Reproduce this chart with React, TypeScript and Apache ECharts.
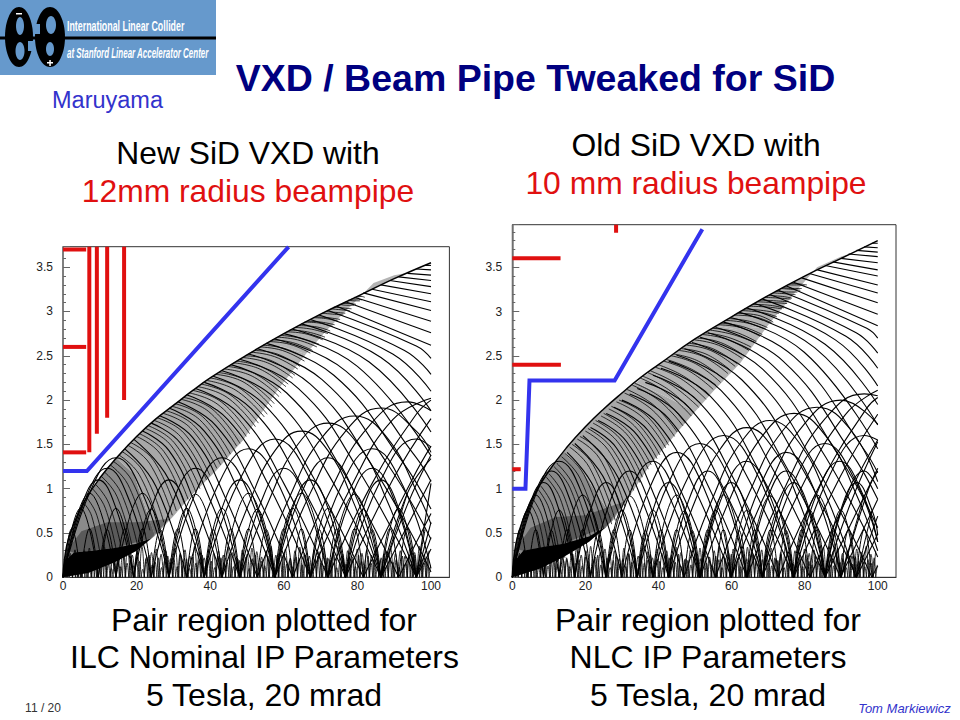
import React, { useEffect, useRef } from "react";
import * as echarts from "echarts";

const xTickMax = 105;
const FONT = '"Liberation Sans", Arial, sans-serif';

// ---- left plot: tracks, each list is x,y,x,y,...
const leftArcs: number[][] = [
  [0,0,33.3,1.78,66.7,3.07,100,3.55],
  [0,0,32.8,1.76,65.6,3.05,98.4,3.52,100,3.52],
  [0,0,32,1.74,64,3.01,96,3.48,100,3.47],
  [0,0,31.2,1.72,62.4,2.97,93.6,3.43,100,3.41],
  [0,0,30.4,1.7,60.8,2.94,91.2,3.39,100,3.35],
  [0,0,29.6,1.68,59.2,2.9,88.8,3.35,100,3.28],
  [0,0,28.8,1.65,57.6,2.86,86.4,3.3,100,3.2],
  [0,0,28,1.63,56,2.81,84,3.25,100,3.11],
  [0,0,27.2,1.6,54.4,2.78,81.6,3.21,100,3.01],
  [0,0,26.4,1.58,52.8,2.74,79.2,3.16,100,2.89],
  [0,0,25.6,1.56,51.2,2.69,76.8,3.11,100,2.76],
  [0,0,24.8,1.53,49.6,2.65,74.4,3.06,100,2.62],
  [0,0,24,1.5,48,2.61,72,3.01,96,2.61,100,2.47],
  [0,0,23.2,1.48,46.4,2.56,69.6,2.96,92.8,2.56,100,2.29],
  [0,0,22.4,1.45,44.8,2.52,67.2,2.91,89.6,2.52,100,2.1],
  [0,0,21.6,1.43,43.2,2.48,64.8,2.86,86.4,2.48,100,1.88],
  [0,0,20.8,1.4,41.6,2.43,62.4,2.8,83.2,2.43,100,1.64],
  [0,0,20,1.37,40,2.38,60,2.75,80,2.38,100,1.37],
  [0,0,19.2,1.35,38.4,2.33,57.6,2.69,76.8,2.33,96,1.35,100,1.08],
  [0,0,18.4,1.32,36.8,2.28,55.2,2.64,73.6,2.28,92,1.32,100,0.77],
  [0,0,17.6,1.29,35.2,2.23,52.8,2.58,70.4,2.23,88,1.29,100,0.43],
  [0,0,16.8,1.26,33.6,2.18,50.4,2.52,67.2,2.18,84,1.26,100,0.06],
  [0,0,16,1.23,32,2.13,48,2.46,64,2.13,80,1.23,96,0],[96,0,100,0.32],
  [0,0,15.2,1.2,30.4,2.08,45.6,2.4,60.8,2.08,76,1.2,91.2,0],[91.2,0,100,0.72],
  [0,0,14.4,1.17,28.8,2.02,43.2,2.33,57.6,2.02,72,1.17,86.4,0],[86.4,0,100,1.1],
  [0,0,13.6,1.13,27.2,1.96,40.8,2.27,54.4,1.96,68,1.13,81.6,0],[81.6,0,95.2,1.13,100,1.48],
  [0,0,12.8,1.1,25.6,1.9,38.4,2.2,51.2,1.9,64,1.1,76.8,0],[76.8,0,89.6,1.1,100,1.79],
  [0,0,12,1.06,24,1.84,36,2.13,48,1.84,60,1.06,72,0],[72,0,84,1.06,96,1.84,100,2],
  [0,0,11.2,1.03,22.4,1.78,33.6,2.06,44.8,1.78,56,1.03,67.2,0],[67.2,0,78.4,1.03,89.6,1.78,100,2.02],
  [0,0,10.4,0.99,20.8,1.71,31.2,1.98,41.6,1.71,52,0.99,62.4,0],[62.4,0,72.8,0.99,83.2,1.71,93.6,1.98,100,1.88],
  [0,0,9.6,0.95,19.2,1.65,28.8,1.91,38.4,1.65,48,0.95,57.6,0],[57.6,0,67.2,0.95,76.8,1.65,86.4,1.91,96,1.65,100,1.41],
  [0,0,8.8,0.91,17.6,1.58,26.4,1.82,35.2,1.58,44,0.91,52.8,0],[52.8,0,61.6,0.91,70.4,1.58,79.2,1.82,88,1.58,96.8,0.91,100,0.6],
  [0,0,8,0.87,16,1.51,24,1.74,32,1.51,40,0.87,48,0],[48,0,56,0.87,64,1.51,72,1.74,80,1.51,88,0.87,96,0],[96,0,100,0.45],
  [0,0,7.2,0.82,14.4,1.43,21.6,1.65,28.8,1.43,36,0.82,43.2,0],[43.2,0,50.4,0.82,57.6,1.43,64.8,1.65,72,1.43,79.2,0.82,86.4,0],[86.4,0,93.6,0.82,100,1.38],
  [0,0,9.6,1.1,19.2,1.56,28.8,1.1,38.4,0],[38.4,0,48,1.1,57.6,1.56,67.2,1.1,76.8,0],[76.8,0,86.4,1.1,96,1.56,100,1.47],
  [0,0,8.4,1.03,16.8,1.45,25.2,1.03,33.6,0],[33.6,0,42,1.03,50.4,1.45,58.8,1.03,67.2,0],[67.2,0,75.6,1.03,84,1.45,92.4,1.03,100,0.1],
  [0,0,7.2,0.95,14.4,1.35,21.6,0.95,28.8,0],[28.8,0,36,0.95,43.2,1.35,50.4,0.95,57.6,0],[57.6,0,64.8,0.95,72,1.35,79.2,0.95,86.4,0],[86.4,0,93.6,0.95,100,1.34],
  [0,0,6,0.87,12,1.23,18,0.87,24,0],[24,0,30,0.87,36,1.23,42,0.87,48,0],[48,0,54,0.87,60,1.23,66,0.87,72,0],[72,0,78,0.87,84,1.23,90,0.87,96,0],[96,0,100,0.62],
  [0,0,4.8,0.78,9.6,1.1,14.4,0.78,19.2,0],[19.2,0,24,0.78,28.8,1.1,33.6,0.78,38.4,0],[38.4,0,43.2,0.78,48,1.1,52.8,0.78,57.6,0],[57.6,0,62.4,0.78,67.2,1.1,72,0.78,76.8,0],[76.8,0,81.6,0.78,86.4,1.1,91.2,0.78,96,0],[96,0,100,1.06],
];
const leftPeaksA = [0.95,0.95,0.94,0.95,0.95,0.94,0.95];
const leftPeaksB = [0.78,0.78,0.77,0.78,0.78,0.77,0.78,0.78,0.77,0.78,0.78];
const leftPeaksC = [0.55,0.55,0.54,0.55,0.55,0.54,0.55,0.55,0.54,0.55,0.55,0.54,0.55,0.55,0.54,0.55,0.55,0.54,0.55,0.55,0.54];
const leftEnvelope = [0,0,1,0.355,3,0.61,6,0.87,10,1.12,15,1.37,20,1.59,25,1.78,30,1.94,35,2.1,40,2.25,50,2.51,60,2.75,70,2.97,80,3.17,90,3.37,100,3.55];
// fine tracks of the hatched band: apex, middle, end
const leftFine: number[][] = [
  [5.6,0.84,7.8,0.69,10.6,0.14],[6.4,0.9,9.2,0.7,12,0.17],[8,1,11.5,0.78,15,0.19],[8.8,1.05,12.5,0.83,16.3,0.24],
  [10.4,1.14,14.7,0.91,19,0.31],[11.2,1.19,15.7,0.96,20.2,0.37],[12.8,1.27,17.6,1.05,22.4,0.48],[13.6,1.31,18.6,1.1,23.6,0.53],
  [15.2,1.38,20.7,1.16,26.3,0.57],[16,1.42,21.7,1.2,27.4,0.62],[17.6,1.49,23.6,1.28,29.7,0.7],[18.4,1.52,24.6,1.32,30.8,0.75],
  [20,1.59,26.5,1.39,33,0.83],[20.8,1.62,27.4,1.42,34,0.88],[22.4,1.68,29.3,1.49,36.2,0.95],[23.2,1.71,30.2,1.52,37.2,1],
  [24.8,1.77,31.9,1.59,39,1.1],[25.6,1.8,32.8,1.63,39.9,1.15],[27.2,1.85,34.5,1.69,41.8,1.23],[28,1.88,35.4,1.72,42.8,1.27],
  [29.6,1.93,37.1,1.78,44.6,1.35],[30.4,1.96,38,1.81,45.5,1.39],[32,2.01,39.6,1.87,47.2,1.48],[32.8,2.03,40.5,1.9,48.1,1.51],
  [34.4,2.08,42.1,1.95,49.8,1.59],[35.2,2.11,43,1.98,50.7,1.62],[36.8,2.15,44.6,2.03,52.3,1.7],[37.6,2.18,45.4,2.06,53.1,1.74],
  [39.2,2.22,47,2.11,54.7,1.81],[40,2.25,47.8,2.14,55.5,1.84],[41.6,2.29,49.2,2.2,56.8,1.92],[42.4,2.31,49.9,2.22,57.4,1.96],
  [44,2.35,51.4,2.27,58.7,2.04],[44.8,2.38,52,2.3,59.3,2.08],[46.4,2.42,53.5,2.35,60.6,2.15],[47.2,2.44,54.2,2.37,61.2,2.18],
  [48.8,2.48,55.6,2.42,62.4,2.25],[49.6,2.5,56.3,2.45,63,2.28],[51.2,2.54,57.5,2.49,63.8,2.35],[52,2.56,58.2,2.52,64.4,2.38],
  [53.6,2.6,59.6,2.56,65.6,2.44],[54.4,2.62,60.3,2.58,66.2,2.47],[56,2.66,61.6,2.63,67.2,2.53],[56.8,2.68,62.3,2.65,67.8,2.56],
  [58.4,2.71,63.7,2.68,69,2.6],[59.2,2.73,64.4,2.7,69.6,2.63],[60.8,2.77,65.7,2.75,70.6,2.68],[61.6,2.79,66.4,2.77,71.2,2.71],
  [63.2,2.82,67.6,2.8,72,2.75],[64,2.84,68.3,2.83,72.6,2.78],[65.6,2.88,69.5,2.87,73.4,2.83],[66.4,2.89,70.1,2.88,73.8,2.85],
  [68,2.93,71.4,2.92,74.8,2.89],[68.8,2.94,72,2.93,75.3,2.91],[70.4,2.98,73.3,2.97,76.2,2.96],[71.2,3,74,2.99,76.7,2.98],
  [72.8,3.03,75.3,3.02,77.9,3.01],[73.6,3.05,76,3.04,78.4,3.03],[75.2,3.08,77.1,3.07,79.1,3.07],[76,3.09,77.8,3.09,79.6,3.08],
  [77.6,3.13,79.1,3.12,80.7,3.12],[78.4,3.14,79.8,3.14,81.2,3.13],[80,3.17,81,3.17,82,3.16],
];

// ---- right plot
const rightArcs: number[][] = [
  [0,0,33.3,1.9,66.7,3.29,100,3.8],
  [0,0,32.8,1.89,65.6,3.26,98.4,3.77,100,3.77],
  [0,0,32.1,1.87,64.2,3.23,96.3,3.73,100,3.72],
  [0,0,31.4,1.85,62.8,3.2,94.2,3.69,100,3.67],
  [0,0,30.7,1.83,61.3,3.16,92,3.65,100,3.62],
  [0,0,30,1.8,59.9,3.12,89.9,3.6,100,3.55],
  [0,0,29.2,1.78,58.5,3.08,87.7,3.56,100,3.47],
  [0,0,28.5,1.76,57.1,3.05,85.6,3.52,100,3.4],
  [0,0,27.8,1.74,55.7,3,83.5,3.47,100,3.3],
  [0,0,27.1,1.72,54.2,2.97,81.3,3.43,100,3.21],
  [0,0,26.4,1.69,52.8,2.93,79.2,3.38,100,3.1],
  [0,0,25.7,1.67,51.3,2.88,77,3.33,100,2.97],
  [0,0,25,1.65,49.9,2.85,74.9,3.29,100,2.84],
  [0,0,24.3,1.62,48.5,2.81,72.8,3.24,97,2.81,100,2.7],
  [0,0,23.5,1.6,47.1,2.76,70.6,3.19,94.1,2.76,100,2.53],
  [0,0,22.8,1.57,45.7,2.72,68.5,3.14,91.3,2.72,100,2.36],
  [0,0,22.1,1.55,44.2,2.68,66.3,3.09,88.4,2.68,100,2.16],
  [0,0,21.4,1.52,42.8,2.63,64.2,3.04,85.6,2.63,100,1.95],
  [0,0,20.7,1.5,41.4,2.59,62.1,2.99,82.8,2.59,100,1.72],
  [0,0,20,1.47,39.9,2.54,59.9,2.93,79.9,2.54,100,1.45],
  [0,0,19.3,1.44,38.5,2.49,57.8,2.88,77.1,2.49,96.3,1.44,100,1.18],
  [0,0,18.5,1.41,37.1,2.44,55.6,2.82,74.1,2.44,92.7,1.41,100,0.88],
  [0,0,17.8,1.38,35.7,2.39,53.5,2.76,71.3,2.39,89.2,1.38,100,0.56],
  [0,0,17.1,1.36,34.3,2.35,51.4,2.71,68.5,2.35,85.7,1.36,100,0.23],
  [0,0,16.4,1.33,32.8,2.29,49.2,2.65,65.6,2.29,82,1.33,98.4,0],[98.4,0,100,0.13],
  [0,0,15.7,1.29,31.4,2.23,47.1,2.58,62.8,2.23,78.5,1.29,94.2,0],[94.2,0,100,0.49],
  [0,0,15,1.26,29.9,2.17,44.9,2.51,59.9,2.17,74.8,1.26,89.8,0],[89.8,0,100,0.88],
  [0,0,14.3,1.22,28.5,2.11,42.8,2.44,57.1,2.11,71.3,1.22,85.6,0],[85.6,0,100,1.23],
  [0,0,13.6,1.18,27.1,2.04,40.7,2.36,54.3,2.04,67.8,1.18,81.4,0],[81.4,0,95,1.18,100,1.55],
  [0,0,12.8,1.14,25.7,1.97,38.5,2.28,51.3,1.97,64.2,1.14,77,0],[77,0,89.8,1.14,100,1.84],
  [0,0,12.1,1.1,24.3,1.91,36.4,2.2,48.5,1.91,60.7,1.1,72.8,0],[72.8,0,84.9,1.1,97,1.91,100,2.03],
  [0,0,11.4,1.07,22.8,1.84,34.2,2.13,45.6,1.84,57,1.07,68.4,0],[68.4,0,79.8,1.07,91.2,1.84,100,2.11],
  [0,0,10.7,1.04,21.4,1.79,32.1,2.07,42.8,1.79,53.5,1.04,64.2,0],[64.2,0,74.9,1.04,85.6,1.79,96.3,2.07,100,2.05],
  [0,0,10,1,20,1.73,30,2,39.9,1.73,49.9,1,59.9,0],[59.9,0,69.9,1,79.9,1.73,89.9,2,100,1.73],
  [0,0,9.3,0.96,18.5,1.66,27.8,1.92,37.1,1.66,46.3,0.96,55.6,0],[55.6,0,64.9,0.96,74.1,1.66,83.4,1.92,92.7,1.66,100,1.08],
  [0,0,8.6,0.93,17.1,1.6,25.7,1.85,34.3,1.6,42.8,0.93,51.4,0],[51.4,0,60,0.93,68.5,1.6,77.1,1.85,85.7,1.6,94.2,0.93,100,0.3],
  [0,0,7.8,0.89,15.7,1.53,23.5,1.77,31.3,1.53,39.2,0.89,47,0],[47,0,54.8,0.89,62.7,1.53,70.5,1.77,78.3,1.53,86.2,0.89,94,0],[94,0,100,0.69],
  [0,0,7.1,0.85,14.3,1.46,21.4,1.69,28.5,1.46,35.7,0.85,42.8,0],[42.8,0,49.9,0.85,57.1,1.46,64.2,1.69,71.3,1.46,78.5,0.85,85.6,0],[85.6,0,92.7,0.85,100,1.53],
  [0,0,9.6,1.13,19.3,1.6,28.9,1.13,38.5,0],[38.5,0,48.1,1.13,57.8,1.6,67.4,1.13,77,0],[77,0,86.6,1.13,96.3,1.6,100,1.55],
  [0,0,8.6,1.07,17.1,1.51,25.7,1.07,34.2,0],[34.2,0,42.8,1.07,51.3,1.51,59.9,1.07,68.4,0],[68.4,0,77,1.07,85.5,1.51,94.1,1.07,100,0.4],
  [0,0,7.5,1,15,1.41,22.5,1,30,0],[30,0,37.5,1,45,1.41,52.5,1,60,0],[60,0,67.5,1,75,1.41,82.5,1,90,0],[90,0,97.5,1,100,1.2],
  [0,0,6.4,0.93,12.8,1.31,19.2,0.93,25.6,0],[25.6,0,32,0.93,38.4,1.31,44.8,0.93,51.2,0],[51.2,0,57.6,0.93,64,1.31,70.4,0.93,76.8,0],[76.8,0,83.2,0.93,89.6,1.31,96,0.93,100,0.4],
  [0,0,5.35,0.85,10.7,1.2,16,0.85,21.4,0],[21.4,0,26.7,0.85,32.1,1.2,37.4,0.85,42.8,0],[42.8,0,48.1,0.85,53.5,1.2,58.8,0.85,64.2,0],[64.2,0,69.5,0.85,74.9,1.2,80.2,0.85,85.6,0],[85.6,0,90.9,0.85,96.3,1.2,100,1],
  [0,0,4.3,0.76,8.56,1.07,12.8,0.76,17.1,0],[17.1,0,21.4,0.76,25.7,1.07,30,0.76,34.2,0],[34.2,0,38.5,0.76,42.8,1.07,47.1,0.76,51.4,0],[51.4,0,55.6,0.76,59.9,1.07,64.2,0.76,68.5,0],[68.5,0,72.8,0.76,77,1.07,81.3,0.76,85.6,0],[85.6,0,89.9,0.76,94.2,1.07,98.4,0.76,100,0.48],
];
const rightPeaksA = [0.93,0.93,0.92,0.93,0.93,0.92,0.93,0.93];
const rightPeaksB = [0.76,0.76,0.75,0.76,0.76,0.75,0.76,0.76,0.75,0.76,0.76,0.75];
const rightPeaksC = [0.54,0.54,0.53,0.54,0.54,0.53,0.54,0.54,0.53,0.54,0.54,0.53,0.54,0.54,0.53,0.54,0.54,0.53,0.54,0.54,0.53,0.54,0.54,0.53];
const rightEnvelope = [0,0,1,0.38,3,0.66,6,0.93,10,1.2,15,1.47,20,1.7,25,1.9,30,2.08,35,2.25,40,2.4,50,2.69,60,2.94,70,3.18,80,3.4,90,3.6,100,3.8];
const rightFine: number[][] = [
  [5,0.83,7.2,0.64,9.4,0.16],[5.7,0.88,8.2,0.68,10.7,0.17],[7.1,0.99,10.1,0.77,13.2,0.2],[7.8,1.03,11.1,0.8,14.4,0.22],
  [9.3,1.13,13.1,0.89,16.8,0.3],[10,1.17,14,0.93,18,0.36],[11.4,1.25,15.8,1.01,20.4,0.41],[12.1,1.29,16.7,1.04,21.6,0.43],
  [13.5,1.36,18.5,1.12,23.8,0.49],[14.3,1.4,19.6,1.16,25,0.55],[15.7,1.47,21.1,1.24,27.2,0.6],[16.4,1.5,22.1,1.27,28.2,0.64],
  [17.8,1.56,23.9,1.34,30,0.74],[18.5,1.59,24.8,1.38,30.8,0.8],[20,1.65,26.2,1.44,32.4,0.93],[20.7,1.68,27,1.47,33.2,0.98],
  [22.1,1.74,28.8,1.53,34.9,1.07],[22.8,1.77,29.6,1.56,35.6,1.13],[24.3,1.82,31.2,1.62,37.2,1.22],[25,1.85,31.8,1.65,38,1.27],
  [26.4,1.9,33.4,1.71,39.6,1.34],[27.1,1.93,34.2,1.74,40.4,1.38],[28.5,1.98,35.8,1.8,42,1.46],[29.2,2,36.6,1.83,42.8,1.49],
  [30.7,2.08,38,1.9,44.4,1.59],[31.4,2.12,38.8,1.94,45.1,1.64],[32.8,2.17,40.3,1.99,46.7,1.71],[33.5,2.19,41,2.02,47.4,1.74],
  [35,2.25,42,2.09,49,1.82],[35.7,2.27,42.7,2.12,49.7,1.86],[37.1,2.31,44,2.16,51,1.92],[37.8,2.33,44.7,2.19,51.6,1.96],
  [39.2,2.37,46.2,2.24,53,2.01],[39.9,2.4,46.9,2.27,53.8,2.05],[41.4,2.44,48.3,2.33,55,2.12],[42.1,2.46,49,2.35,55.7,2.17],
  [43.5,2.5,50.2,2.41,57,2.2],[44.2,2.52,50.9,2.44,57.7,2.24],[45.7,2.56,52.3,2.49,59,2.3],[46.4,2.58,53,2.52,59.6,2.34],
  [47.8,2.62,54.3,2.56,61,2.38],[48.5,2.64,54.9,2.58,61.5,2.41],[49.9,2.68,56.4,2.62,62.9,2.47],[50.7,2.7,57,2.65,63.5,2.5],
  [52.1,2.74,58.4,2.69,64.8,2.56],[52.8,2.76,59,2.71,65.3,2.6],[54.2,2.79,60.4,2.74,66.3,2.65],[54.9,2.81,60.9,2.77,66.8,2.66],
  [56.4,2.85,62.4,2.82,67.8,2.72],[57.1,2.87,63,2.83,68.4,2.74],[58.5,2.9,64.3,2.87,69.4,2.8],[59.2,2.92,64.9,2.89,69.8,2.82],
  [60.7,2.96,66.3,2.94,71,2.87],[61.4,2.98,67,2.96,71.4,2.88],[62.8,3.01,68.2,2.99,72.4,2.94],[63.5,3.03,68.8,3.01,73,2.98],
  [65,3.06,70,3.05,73.8,3.03],[65.7,3.08,70.6,3.07,74.3,3.04],[67.1,3.11,71.8,3.1,75.2,3.09],[67.8,3.13,72.3,3.12,75.6,3.11],
  [69.2,3.16,73.5,3.15,76.2,3.14],[69.9,3.18,74,3.17,76.5,3.15],[71.4,3.21,75,3.2,77.5,3.19],[72.1,3.23,75.6,3.22,78,3.22],
  [73.5,3.26,76.6,3.25,78.8,3.24],[74.2,3.27,77.2,3.26,79.2,3.26],[75.6,3.3,78.2,3.3,80,3.29],[76.3,3.32,78.8,3.31,80.6,3.3],
];

// small loops along the floor of both plots (peak heights)
const floorPeaksA = [0.2,0.27,0.31,0.24,0.3,0.33,0.22,0.29,0.34,0.26,0.31,0.2,0.28,0.33,0.25,0.3,0.35,0.23,0.28,0.32,0.26,0.3,0.21,0.33,0.27,0.31,0.24,0.35,0.29,0.22,0.32,0.27,0.3,0.25,0.34,0.28,0.21,0.31,0.26,0.33,0.29,0.23,0.3,0.35,0.25,0.28,0.32,0.22,0.3,0.34,0.27,0.24,0.31,0.29,0.33,0.21,0.28,0.35,0.26,0.3,0.23,0.32,0.27,0.31,0.25,0.34,0.22,0.29,0.33,0.27,0.3,0.24,0.32,0.28,0.35,0.26,0.3];
const floorPeaksB = [0.1,0.16,0.2,0.12,0.18,0.23,0.14,0.2,0.11,0.24,0.17,0.13,0.21,0.25,0.15,0.1,0.19,0.22,0.12,0.26,0.16,0.2,0.13,0.23,0.18,0.09,0.21,0.25,0.14,0.17,0.22,0.11,0.19,0.24,0.15,0.2,0.12,0.26,0.17,0.21,0.1,0.23,0.16,0.19,0.25,0.13,0.2,0.18,0.11,0.24,0.22,0.15,0.17,0.26,0.12,0.2,0.19,0.14,0.23,0.1,0.21,0.25,0.16,0.18,0.13,0.24,0.2,0.11,0.22,0.17,0.26,0.15,0.19,0.12,0.23,0.21,0.14,0.25,0.18,0.1,0.2,0.24,0.16,0.13,0.22,0.19,0.26,0.11,0.17,0.21,0.15,0.23,0.2,0.12,0.25,0.18,0.14,0.24,0.16,0.21,0.1,0.19,0.26,0.13,0.22,0.17,0.2,0.11,0.24,0.15,0.23,0.18,0.25,0.12,0.2,0.16,0.22,0.14];

// shaded band outlines
const leftBands: number[][][] = [
  [[0,0],[1,0.355],[3,0.61],[6,0.87],[10,1.12],[14.4,1.35],[19.2,1.17],[25,0.47],[20,0.3],[14,0.17],[7,0.05]],
  [[14.4,1.35],[20,1.59],[25,1.78],[30,1.94],[33.6,2.06],[42,1.9],[49,1.55],[47,1.46],[41.8,1.21],[35,0.93],[30,0.69],[25,0.47],[19.2,1.17]],
  [[33.6,2.06],[40,2.25],[50,2.51],[55,2.63],[60,2.6],[66,2.52],[59,2.15],[53,1.8],[49,1.55],[42,1.9]],
  [[55,2.63],[60,2.75],[70,2.97],[80,3.17],[90,3.37],[93,3.43],[90,3.41],[84.4,3.32],[80.8,3.17],[71.7,2.79],[66,2.52],[60,2.6]],
];
const rightBands: number[][][] = [
  [[0,0],[1,0.38],[3,0.66],[6,0.93],[10,1.2],[14,1.41],[18.7,1.23],[27.7,0.65],[21,0.4],[14,0.23],[7.6,0.1]],
  [[14,1.41],[20,1.7],[25,1.9],[30,2.08],[34,2.2],[42.5,2.03],[50,1.87],[46,1.68],[37.7,1.27],[32,0.91],[27.7,0.65],[18.7,1.23]],
  [[34,2.2],[40,2.4],[50,2.69],[56,2.84],[61,2.8],[69.7,2.83],[62.4,2.42],[55,2.1],[50,1.87],[42.5,2.03]],
  [[56,2.84],[60,2.94],[70,3.18],[80,3.4],[90,3.6],[93,3.66],[90,3.62],[83.4,3.5],[77.9,3.24],[69.7,2.83],[61,2.8]],
];
const bandTones = ["#8a8a8a", "#a8a8a8", "#b4b4b4", "#b4b4b4"];
const leftDense = [[0,0],[1,0.2],[3,0.28],[8,0.3],[14,0.33],[20,0.38],[24,0.44],[20,0.3],[14,0.17],[7,0.05]];
const leftHaze = [[1,0.3],[5,0.52],[12,0.62],[20,0.62],[29,0.66],[24,0.44],[14,0.33],[3,0.28]];
const rightDense = [[0,0],[1,0.2],[3,0.3],[8,0.34],[14,0.38],[21,0.46],[26,0.58],[21,0.4],[14,0.23],[7.6,0.1]];
const rightHaze = [[1,0.32],[5,0.56],[12,0.68],[20,0.7],[31,0.86],[26,0.58],[14,0.38],[3,0.3]];

// beam pipe outlines and detector layers
const leftBlue = [[0,1.2],[6.5,1.2],[61.3,3.73]];
const leftRed = [
  [[0,3.7],[6.3,3.7]],[[0,2.6],[6.3,2.6]],[[0,1.41],[6.3,1.41]],
  [[7.15,1.41],[7.15,3.73]],[[9.2,1.62],[9.2,3.73]],[[12,1.8],[12,3.73]],[[16.6,2],[16.6,3.73]],
];
const rightBlue = [[0,1],[3.6,1],[4.7,2.22],[28,2.22],[52,3.93]];
const rightRed = [
  [[0,3.6],[13.2,3.6]],[[0,2.4],[13.3,2.4]],[[0,1.22],[2.3,1.22]],[[28.4,3.89],[28.4,3.98]],
];

const repeatArches = (period: number, peaks: number[]) =>
  peaks.flatMap((p, i) => {
    const s = i * period;
    const pts: number[][] = [[s, 0]];
    if (s + period / 2 <= 100) pts.push([s + period / 2, p]);
    if (s + period <= 100) pts.push([s + period, 0]);
    return pts.length > 1 ? [pts] : [];
  });

const pairs = (flat: number[]) => {
  const out: number[][] = [];
  for (let i = 0; i < flat.length; i += 2) out.push([flat[i], flat[i + 1]]);
  return out;
};

// big tracks climb along the envelope, so only their falling side is drawn
const fallingSide = (flat: number[]) => {
  const pts = pairs(flat);
  const top = Math.max(...pts.map((p) => p[1]));
  if (pts[0][0] !== 0 || top < 1.36) return pts;
  return pts.slice(pts.findIndex((p) => p[1] === top));
};

function plotSeries(idx: number, arcs: number[][], fine: number[][], envelope: number[], bands: number[][][], dense: number[][], haze: number[][],
  peaks: [number, number[]][], blue: number[][], red: number[][][]) {
  const axis = { xAxisIndex: idx, yAxisIndex: idx };
  const out: any[] = [];
  const poly = (pts: number[][], style: any, z: number) => ({
    type: "custom", ...axis, z, silent: true, data: [pts[0]], encode: { x: 0, y: 1 },
    renderItem: (_: any, api: any) => ({
      type: "polygon", shape: { points: pts.map((p) => api.coord(p)) }, style,
    }),
  });
  bands.forEach((b, i) => out.push(poly(b, { fill: bandTones[i] }, 1)));
  out.push(poly(haze, { fill: "rgba(0,0,0,0.35)" }, 2));
  out.push(poly(dense, { fill: "#000" }, 2));
  const line = (data: number[][], width: number, color: string, z: number, smooth: number | boolean) => ({
    type: "line", ...axis, data, z, silent: true, symbol: "none", smooth, clip: true,
    lineStyle: { width, color, cap: "butt", join: "miter" },
  });
  fine.forEach((a) => out.push(line(pairs(a), 0.8, "#000", 3, 0.45)));
  arcs.forEach((a) => out.push(line(fallingSide(a), 1.1, "#000", 3, 0.45)));
  out.push(line(pairs(envelope), 1.5, "#000", 3, 0.45));
  peaks.forEach(([p, v]) => repeatArches(p, v).forEach((a) => out.push(line(a, p < 2 ? 0.8 : 1, "#000", 3, 0.45))));
  red.forEach((r) => out.push(line(r, 4, "#e01010", 5, false)));
  out.push(line(blue, 4, "#3333ee", 6, false));
  return out;
}

const text = (t: string, x: number, y: number, fill: string, size: number, extra: any = {}) => ({
  type: "text", z: 20, silent: true,
  style: {
    text: t, x, y, fill, textAlign: extra.align || "center", textVerticalAlign: "middle",
    font: `${extra.italic ? "italic " : ""}${extra.weight || "normal"} ${size}px ${FONT}`,
  },
});

const LOGO = "#6699cc";
const logo: any[] = [
  { type: "rect", z: 10, shape: { x: 0, y: 0, width: 216, height: 75 }, style: { fill: LOGO } },
  { type: "rect", z: 11, shape: { x: 0, y: 36.5, width: 216, height: 3 }, style: { fill: "#000" } },
  { type: "ellipse", z: 11, shape: { cx: 19, cy: 37, rx: 14, ry: 30 }, style: { fill: "#000" } },
  { type: "ellipse", z: 11, shape: { cx: 50, cy: 37, rx: 15, ry: 30 }, style: { fill: "#000" } },
  { type: "ellipse", z: 12, shape: { cx: 20, cy: 26, rx: 4, ry: 9 }, style: { fill: LOGO } },
  { type: "ellipse", z: 12, shape: { cx: 20, cy: 51, rx: 4.5, ry: 9 }, style: { fill: LOGO } },
  { type: "ellipse", z: 12, shape: { cx: 51, cy: 25, rx: 5, ry: 9 }, style: { fill: LOGO } },
  { type: "ellipse", z: 12, shape: { cx: 50, cy: 49, rx: 4, ry: 7 }, style: { fill: LOGO } },
  { type: "rect", z: 12, shape: { x: 28, y: 41, width: 6, height: 10 }, style: { fill: LOGO } },
  { type: "rect", z: 12, shape: { x: 34, y: 24, width: 6, height: 10 }, style: { fill: LOGO } },
  { type: "rect", z: 13, shape: { x: 16, y: 13, width: 6, height: 1.5 }, style: { fill: "#fff" } },
  { type: "rect", z: 13, shape: { x: 47, y: 62, width: 6, height: 1.5 }, style: { fill: "#fff" } },
  { type: "rect", z: 13, shape: { x: 49.3, y: 60, width: 1.5, height: 6 }, style: { fill: "#fff" } },
  { type: "text", z: 13, x: 67, y: 26, scaleX: 0.61, silent: true,
    style: { text: "International Linear Collider", x: 0, y: 0, fill: "#fff", font: `bold 14.5px ${FONT}`, textAlign: "left", textVerticalAlign: "middle" } },
  { type: "text", z: 13, x: 67, y: 52, scaleX: 0.55, silent: true,
    style: { text: "at Stanford Linear Accelerator Center", x: 0, y: 0, fill: "#fff", font: `italic bold 14.5px ${FONT}`, textAlign: "left", textVerticalAlign: "middle" } },
];

const titles = [
  text("VXD / Beam Pipe Tweaked for SiD", 535.5, 78, "#000080", 37.5, { weight: "bold" }),
  text("Maruyama", 107.5, 100, "#3333cc", 23.5),
  text("New SiD VXD with", 248, 153, "#000", 31.8),
  text("12mm radius beampipe", 248, 191, "#e01010", 31.8),
  text("Old SiD VXD with", 696, 145, "#000", 31.8),
  text("10 mm radius beampipe", 696, 183, "#e01010", 31.8),
  text("Pair region plotted for", 264, 620, "#000", 32),
  text("ILC Nominal IP Parameters", 264.5, 657, "#000", 32),
  text("5 Tesla, 20 mrad", 264, 695, "#000", 32),
  text("Pair region plotted for", 708, 620, "#000", 32),
  text("NLC IP Parameters", 708, 657, "#000", 32),
  text("5 Tesla, 20 mrad", 708, 695, "#000", 32),
  text("11 / 20", 43, 708, "#333", 12),
  text("Tom Markiewicz", 904.5, 708, "#3333cc", 13, { italic: true }),
];

const axisLabel = { fontFamily: FONT, fontSize: 12, color: "#222" };
const xAxis = (gridIndex: number) => ({
  type: "value", gridIndex, min: 0, max: xTickMax, interval: 20,
  splitLine: { show: false }, axisTick: { show: false },
  axisLine: { show: true, lineStyle: { color: "#333", width: 1 } },
  axisLabel: { ...axisLabel, margin: 3, showMaxLabel: false },
});
const yAxis = (gridIndex: number, max: number) => ({
  type: "value", gridIndex, min: 0, max, interval: 0.5,
  splitLine: { show: false },
  axisTick: { show: true, inside: true, length: 7, lineStyle: { color: "#666", width: 1 } },
  minorTick: { show: true, splitNumber: 5, length: 3, lineStyle: { color: "#666", width: 1 } },
  axisLine: { show: true, lineStyle: { color: "#777", width: 1.5 } },
  axisLabel: { ...axisLabel, margin: 10, showMaxLabel: false, formatter: (v: number) => String(v) },
});

export default function App() {
  const ref = useRef<HTMLDivElement>(null);
  useEffect(() => {
    const chart = echarts.init(ref.current!, null, { renderer: "svg" });
    chart.setOption({
      animation: false,
      backgroundColor: "#fff",
      grid: [
        { left: 63, top: 246.7, width: 386.4, height: 330.6, show: true, borderColor: "#333", borderWidth: 1 },
        { left: 512.3, top: 224.7, width: 383.7, height: 352.6, show: true, borderColor: "#333", borderWidth: 1 },
      ],
      xAxis: [xAxis(0), xAxis(1)],
      yAxis: [yAxis(0, 3.731), yAxis(1, 3.98)],
      series: [
        ...plotSeries(0, leftArcs, leftFine, leftEnvelope, leftBands, leftDense, leftHaze,
          [[14.4, leftPeaksA], [9.6, leftPeaksB], [4.8, leftPeaksC], [1.3, floorPeaksA], [0.85, floorPeaksB]], leftBlue, leftRed),
        ...plotSeries(1, rightArcs, rightFine, rightEnvelope, rightBands, rightDense, rightHaze,
          [[12.84, rightPeaksA], [8.56, rightPeaksB], [4.28, rightPeaksC], [1.3, floorPeaksA], [0.85, floorPeaksB]], rightBlue, rightRed),
      ],
      graphic: [...logo, ...titles],
    });
    return () => chart.dispose();
  }, []);
  return <div ref={ref} style={{ position: "absolute", left: 0, top: 0, width: 960, height: 720 }} />;
}
